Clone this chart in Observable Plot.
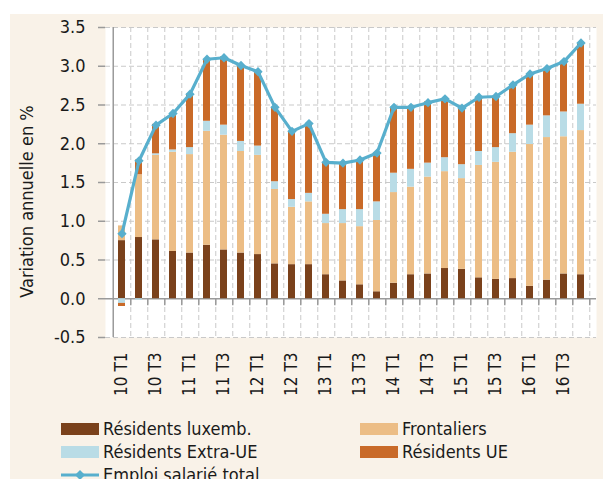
<!DOCTYPE html>
<html>
<head>
<meta charset="utf-8">
<script src="https://cdn.jsdelivr.net/npm/d3@7"></script>
<script src="https://cdn.jsdelivr.net/npm/@observablehq/plot@0.6"></script>
<style>
  html, body { margin: 0; padding: 0; background: #ffffff; }
  body { width: 603px; height: 479px; overflow: hidden; position: relative; }
  #panel {
    position: absolute; left: 10px; top: 14px; width: 593px; height: 465px;
    background: #f9f2e8; overflow: hidden;
    font-family: "DejaVu Sans Condensed", "DejaVu Sans", sans-serif;
    font-stretch: condensed; color: #1a1a1a;
  }
  #chart { position: absolute; left: 0; top: 0; }
  #legend { position: absolute; left: 0; top: 403px; width: 593px; font-size: 18px; }
  .item { position: absolute; height: 23px; line-height: 23px; white-space: nowrap; display: flex; align-items: center; }
  .sw { display: inline-block; width: 38px; height: 12px; margin-right: 4px; }
</style>
</head>
<body>
<div id="panel">
  <div id="chart"></div>
  <div id="legend"></div>
</div>
<script>
// ---- Data ----
const quarters = ["10 T1","10 T2","10 T3","10 T4","11 T1","11 T2","11 T3","11 T4",
                  "12 T1","12 T2","12 T3","12 T4","13 T1","13 T2","13 T3","13 T4",
                  "14 T1","14 T2","14 T3","14 T4","15 T1","15 T2","15 T3","15 T4",
                  "16 T1","16 T2","16 T3","16 T4"];
const xTickLabels = ["10 T1","10 T3","11 T1","11 T3","12 T1","12 T3","13 T1","13 T3",
                     "14 T1","14 T3","15 T1","15 T3","16 T1","16 T3"];
const yTicks = [-0.5, 0, 0.5, 1, 1.5, 2, 2.5, 3, 3.5];

const residentsLux = [0.75,0.79,0.76,0.61,0.59,0.69,0.63,0.59,0.57,0.45,0.44,0.44,0.31,0.23,
                      0.18,0.09,0.20,0.31,0.32,0.39,0.38,0.27,0.25,0.26,0.16,0.24,0.32,0.31];
const frontaliers  = [0.19,0.81,1.09,1.28,1.27,1.47,1.48,1.31,1.28,0.96,0.74,0.81,0.66,0.74,
                      0.75,0.92,1.17,1.13,1.25,1.25,1.17,1.45,1.51,1.63,1.83,1.84,1.77,1.86];
const residentsExtraUE = [-0.06,-0.02,0.02,0.03,0.09,0.13,0.13,0.13,0.12,0.10,0.10,0.11,0.12,0.18,
                          0.22,0.24,0.25,0.23,0.18,0.18,0.18,0.18,0.19,0.24,0.25,0.28,0.32,0.34];
const residentsUE  = [-0.04,0.19,0.38,0.47,0.69,0.79,0.88,0.97,0.96,0.96,0.88,0.90,0.66,0.60,
                      0.63,0.63,0.85,0.80,0.79,0.76,0.72,0.70,0.65,0.63,0.66,0.61,0.64,0.78];
const emploiTotal  = [0.84,1.78,2.24,2.39,2.64,3.09,3.11,3.01,2.93,2.47,2.16,2.26,1.76,1.75,
                      1.79,1.88,2.47,2.47,2.53,2.58,2.46,2.60,2.61,2.76,2.90,2.97,3.06,3.30];

const seriesNames  = ["Résidents luxemb.","Frontaliers","Résidents Extra-UE","Résidents UE"];
const seriesValues = [residentsLux, frontaliers, residentsExtraUE, residentsUE];
const seriesColors = ["#7a411b","#ecbd85","#b9dce6","#c96a28"];
const lineName = "Emploi salarié total";
const lineColor = "#58afcd";
const yTitle = "Variation annuelle en %";

// ---- Build tables ----
const stacked = seriesNames.flatMap((name, s) =>
  quarters.map((q, i) => ({q, series: name, v: seriesValues[s][i]})));
const totals = quarters.map((q, i) => ({q, v: emploiTotal[i]}));

// ---- Layout ----
const W = 593, H = 395, ML = 95, MR = 7, MT = 13, MB = 72;
const step = (W - ML - MR) / quarters.length;
const grid = "#c9c9c9", axisGray = "#9a9a9a";
const font = '"DejaVu Sans Condensed", "DejaVu Sans", sans-serif';

const chart = Plot.plot({
  width: W, height: H,
  marginLeft: ML, marginRight: MR, marginTop: MT, marginBottom: MB,
  style: {background: "transparent", fontFamily: font, fontSize: "18px", color: "#1a1a1a", fontStretch: "condensed"},
  x: {domain: quarters, paddingInner: 0.6, paddingOuter: 0.3, axis: null},
  y: {domain: [-0.5, 3.5], axis: null},
  color: {domain: seriesNames, range: seriesColors},
  marks: [
    Plot.frame({fill: "white", stroke: "none"}),
    Plot.ruleY(yTicks.filter(d => d !== 0), {stroke: grid, strokeDasharray: "5,3"}),
    Plot.ruleX(quarters, {x: d => d, dx: step / 2, stroke: grid, strokeDasharray: "5,3"}),
    Plot.ruleY([0], {stroke: axisGray, strokeWidth: 1.5}),
    Plot.ruleX(quarters, {x: d => d, y1: 0, y2: 0, insetBottom: -7, dx: step / 2, stroke: axisGray, strokeWidth: 1.5}),
    Plot.ruleX([quarters[0]], {x: d => d, dx: -step / 2, stroke: axisGray, strokeWidth: 1.5}),
    Plot.axisY({ticks: yTicks, tickSize: 7, tickPadding: 13, tickFormat: d => d.toFixed(1),
                stroke: axisGray, strokeWidth: 1.5, fontSize: 18, label: null}),
    Plot.axisX({ticks: xTickLabels, tickSize: 0, tickPadding: 15, tickRotate: -90,
                textAnchor: "end", fontSize: 17, label: null}),
    Plot.text([yTitle], {text: d => d, frameAnchor: "left", rotate: -90, dx: -78, dy: 19,
                         fontSize: 18, textAnchor: "middle", lineAnchor: "middle"}),
    Plot.barY(stacked, {x: "q", y: "v", fill: "series", order: seriesNames}),
    Plot.line(totals, {x: "q", y: "v", stroke: lineColor, strokeWidth: 3.2}),
    Plot.dot(totals, {x: "q", y: "v", symbol: "diamond2", r: 4.2, fill: lineColor, stroke: "none"})
  ]
});
document.getElementById("chart").appendChild(chart);

// ---- Legend ----
const legend = document.getElementById("legend");
const items = [
  {name: seriesNames[0], color: seriesColors[0], col: 0, row: 0},
  {name: seriesNames[1], color: seriesColors[1], col: 1, row: 0},
  {name: seriesNames[2], color: seriesColors[2], col: 0, row: 1},
  {name: seriesNames[3], color: seriesColors[3], col: 1, row: 1},
  {name: lineName, color: lineColor, col: 0, row: 2, line: true}
];
const colX = [51, 350];
for (const it of items) {
  const div = document.createElement("div");
  div.className = "item";
  div.style.left = colX[it.col] + "px";
  div.style.top = (it.row * 23) + "px";
  if (it.line) {
    div.innerHTML = `<svg width="38" height="12" style="margin-right:4px"><line x1="0" x2="38" y1="6" y2="6" stroke="${it.color}" stroke-width="3.2"/><path d="M19,1 L24,6 L19,11 L14,6 Z" fill="${it.color}"/></svg><span>${it.name}</span>`;
  } else {
    div.innerHTML = `<span class="sw" style="background:${it.color}"></span><span>${it.name}</span>`;
  }
  legend.appendChild(div);
}
</script>
</body>
</html>
